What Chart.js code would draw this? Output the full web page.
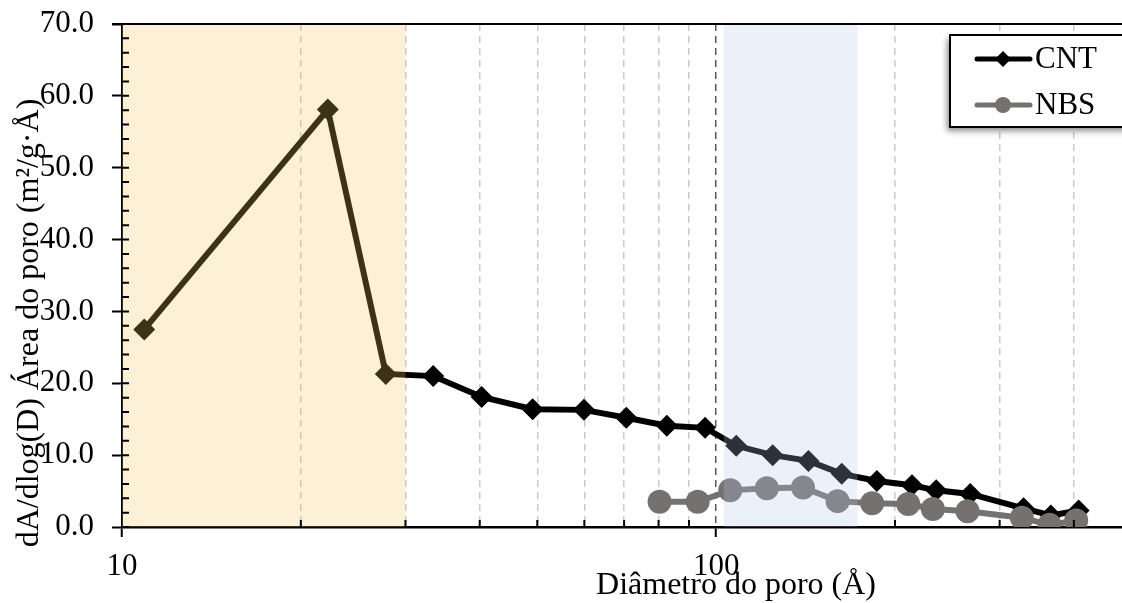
<!DOCTYPE html>
<html>
<head>
<meta charset="utf-8">
<script src="https://cdn.jsdelivr.net/npm/chart.js@4.4.1/dist/chart.umd.min.js"></script>
<style>
  html, body { margin: 0; padding: 0; background: #fff; }
  #wrap { width: 1122px; height: 603px; overflow: hidden; }
</style>
</head>
<body>
<div id="wrap"><canvas id="poreChart" width="1122" height="603"></canvas></div>
<script>
// pore diameter (Å) and dA/dlog(D) (m²/g·Å)
const cntDiameter = [10.9, 22.2, 27.8, 33.4, 40.3, 49.1, 59.9, 70.6, 82.6, 95.8, 108.1, 124.5, 143.0, 162.7, 186.4, 213.6, 234.6, 267.7, 329.1, 365.9, 407.4];
const cntArea = [27.5, 58.1, 21.3, 21.0, 18.1, 16.4, 16.3, 15.2, 14.1, 13.8, 11.3, 10.0, 9.2, 7.4, 6.4, 5.8, 5.1, 4.6, 2.6, 1.6, 2.3];

const nbsDiameter = [80.3, 93.1, 105.6, 121.7, 140.0, 160.1, 183.0, 210.5, 231.6, 264.9, 327.0, 364.0, 403.6];
const nbsArea = [3.5, 3.5, 5.1, 5.4, 5.5, 3.6, 3.3, 3.2, 2.5, 2.2, 1.3, 0.3, 0.9];

const seriesNames = ["CNT", "NBS"];
const xTickValues = [10, 20, 30, 40, 50, 60, 70, 80, 90, 100, 200, 300, 400];
const xLabelValues = [10, 100];
const yTickValues = [0, 10, 20, 30, 40, 50, 60, 70];
const xTitle = "Diâmetro do poro (Å)";
const yTitle = "dA/dlog(D) Área do poro (m²/g·Å)";

// shaded diameter ranges (Å)
const bandRanges = [[10, 30], [103, 173]];
const bandColors = ["rgba(245, 200, 95, 0.25)", "rgba(180, 199, 231, 0.25)"];

const FONT = '"Liberation Serif", "Times New Roman", serif';

const decorations = {
    id: "decorations",
    afterDatasetsDraw(chart) {
        const { ctx, chartArea: area, scales: { x, y } } = chart;
        ctx.save();
        // translucent bands sit on top of the lines
        bandRanges.forEach((r, i) => {
            const x1 = x.getPixelForValue(r[0]);
            const x2 = x.getPixelForValue(r[1]);
            ctx.fillStyle = bandColors[i];
            ctx.fillRect(x1, area.top, x2 - x1, area.bottom - area.top);
        });
        // minor ticks pointing inside
        ctx.strokeStyle = "#000";
        ctx.lineWidth = 2;
        ctx.beginPath();
        for (let v = 0; v <= 70; v += 2) {
            const py = y.getPixelForValue(v);
            ctx.moveTo(area.left, py);
            ctx.lineTo(area.left + 7, py);
        }
        xTickValues.forEach((v) => {
            if (xLabelValues.includes(v)) return;
            const px = x.getPixelForValue(v);
            ctx.moveTo(px, area.bottom);
            ctx.lineTo(px, area.bottom - 7);
        });
        ctx.stroke();
        // top frame line
        ctx.beginPath();
        ctx.moveTo(area.left - 10, area.top);
        ctx.lineTo(area.right, area.top);
        ctx.stroke();
        ctx.restore();
    },
    afterDraw(chart) {
        const { ctx } = chart;
        ctx.save();

        // legend box with shadow
        const lx = 950, ly = 35, lw = 200, lh = 92;
        ctx.save();
        ctx.shadowColor = "rgba(0, 0, 0, 0.45)";
        ctx.shadowBlur = 6;
        ctx.shadowOffsetX = -3;
        ctx.shadowOffsetY = 4;
        ctx.fillStyle = "#fff";
        ctx.fillRect(lx, ly, lw, lh);
        ctx.restore();
        ctx.strokeStyle = "#000";
        ctx.lineWidth = 2;
        ctx.strokeRect(lx, ly, lw, lh);

        chart.data.datasets.forEach((ds, i) => {
            const cy = ly + 24 + i * 46;
            ctx.strokeStyle = ds.borderColor;
            ctx.lineWidth = 5;
            ctx.lineCap = "round";
            ctx.beginPath();
            ctx.moveTo(977, cy);
            ctx.lineTo(1030, cy);
            ctx.stroke();
            ctx.fillStyle = ds.pointBackgroundColor;
            ctx.beginPath();
            if (ds.pointStyle === "rectRot") {
                ctx.moveTo(1003 - 8, cy);
                ctx.lineTo(1003, cy - 8);
                ctx.lineTo(1003 + 8, cy);
                ctx.lineTo(1003, cy + 8);
                ctx.closePath();
            } else {
                ctx.arc(1003, cy, 8, 0, Math.PI * 2);
            }
            ctx.fill();
            ctx.fillStyle = "#000";
            ctx.font = "31px " + FONT;
            ctx.textAlign = "left";
            ctx.textBaseline = "middle";
            ctx.fillText(ds.label, 1035, cy + 1);
        });

        // axis titles
        ctx.fillStyle = "#000";
        ctx.font = "32px " + FONT;
        ctx.textAlign = "center";
        ctx.textBaseline = "alphabetic";
        ctx.fillText(xTitle, 736, 594);
        ctx.translate(38, 323);
        ctx.rotate(-Math.PI / 2);
        ctx.fillText(yTitle, 0, 0);
        ctx.restore();
    },
};

const ctx = document.getElementById("poreChart").getContext("2d");

new Chart(ctx, {
    type: "line",
    data: {
        datasets: [
            {
                label: seriesNames[0],
                data: cntDiameter.map((d, i) => ({ x: d, y: cntArea[i] })),
                borderColor: "#000000",
                backgroundColor: "#000000",
                borderWidth: 6,
                pointStyle: "rectRot",
                pointRadius: 11,
                pointBorderWidth: 0,
                pointBackgroundColor: "#000000",
                tension: 0,
                order: 2,
            },
            {
                label: seriesNames[1],
                data: nbsDiameter.map((d, i) => ({ x: d, y: nbsArea[i] })),
                borderColor: "#767171",
                backgroundColor: "#767171",
                borderWidth: 6,
                pointStyle: "circle",
                pointRadius: 12,
                pointBorderWidth: 0,
                pointBackgroundColor: "#767171",
                tension: 0,
                order: 1,
            },
        ],
    },
    options: {
        responsive: false,
        animation: false,
        layout: { autoPadding: false, padding: { top: 24, left: 0, right: 0, bottom: 0 } },
        plugins: {
            legend: { display: false },
            tooltip: { enabled: false },
        },
        scales: {
            x: {
                type: "logarithmic",
                min: 10,
                max: 482,
                bounds: "data",
                afterBuildTicks: (scale) => {
                    scale.ticks = xTickValues.map((v) => ({ value: v }));
                },
                afterFit: (scale) => {
                    scale.height = 76;
                    scale.paddingLeft = 0;
                    scale.paddingRight = 0;
                },
                ticks: {
                    autoSkip: false,
                    maxRotation: 0,
                    padding: 11,
                    color: "#000",
                    font: { family: FONT, size: 31 },
                    callback: (v) => (xLabelValues.includes(v) ? String(v) : ""),
                },
                grid: {
                    color: (c) => {
                        const v = c.tick ? c.tick.value : null;
                        if (v === 10) return "rgba(0,0,0,0)";
                        return v === 100 ? "#595959" : "#c9c9c9";
                    },
                    lineWidth: 1.5,
                    tickLength: 10,
                    tickWidth: 2,
                    tickColor: (c) =>
                        c.tick && xLabelValues.includes(c.tick.value) ? "#000" : "rgba(0,0,0,0)",
                },
                border: { color: "#000", width: 2.5, dash: [7, 5] },
            },
            y: {
                min: 0,
                max: 70,
                afterBuildTicks: (scale) => {
                    scale.ticks = yTickValues.map((v) => ({ value: v }));
                },
                afterFit: (scale) => {
                    scale.width = 122;
                    scale.paddingTop = 0;
                    scale.paddingBottom = 0;
                },
                ticks: {
                    padding: 18,
                    color: "#000",
                    font: { family: FONT, size: 31 },
                    callback: (v) => v.toFixed(1),
                },
                grid: {
                    drawOnChartArea: false,
                    tickLength: 10,
                    tickWidth: 2,
                    tickColor: "#000",
                },
                border: { color: "#000", width: 2 },
            },
        },
    },
    plugins: [decorations],
});
</script>
</body>
</html>
